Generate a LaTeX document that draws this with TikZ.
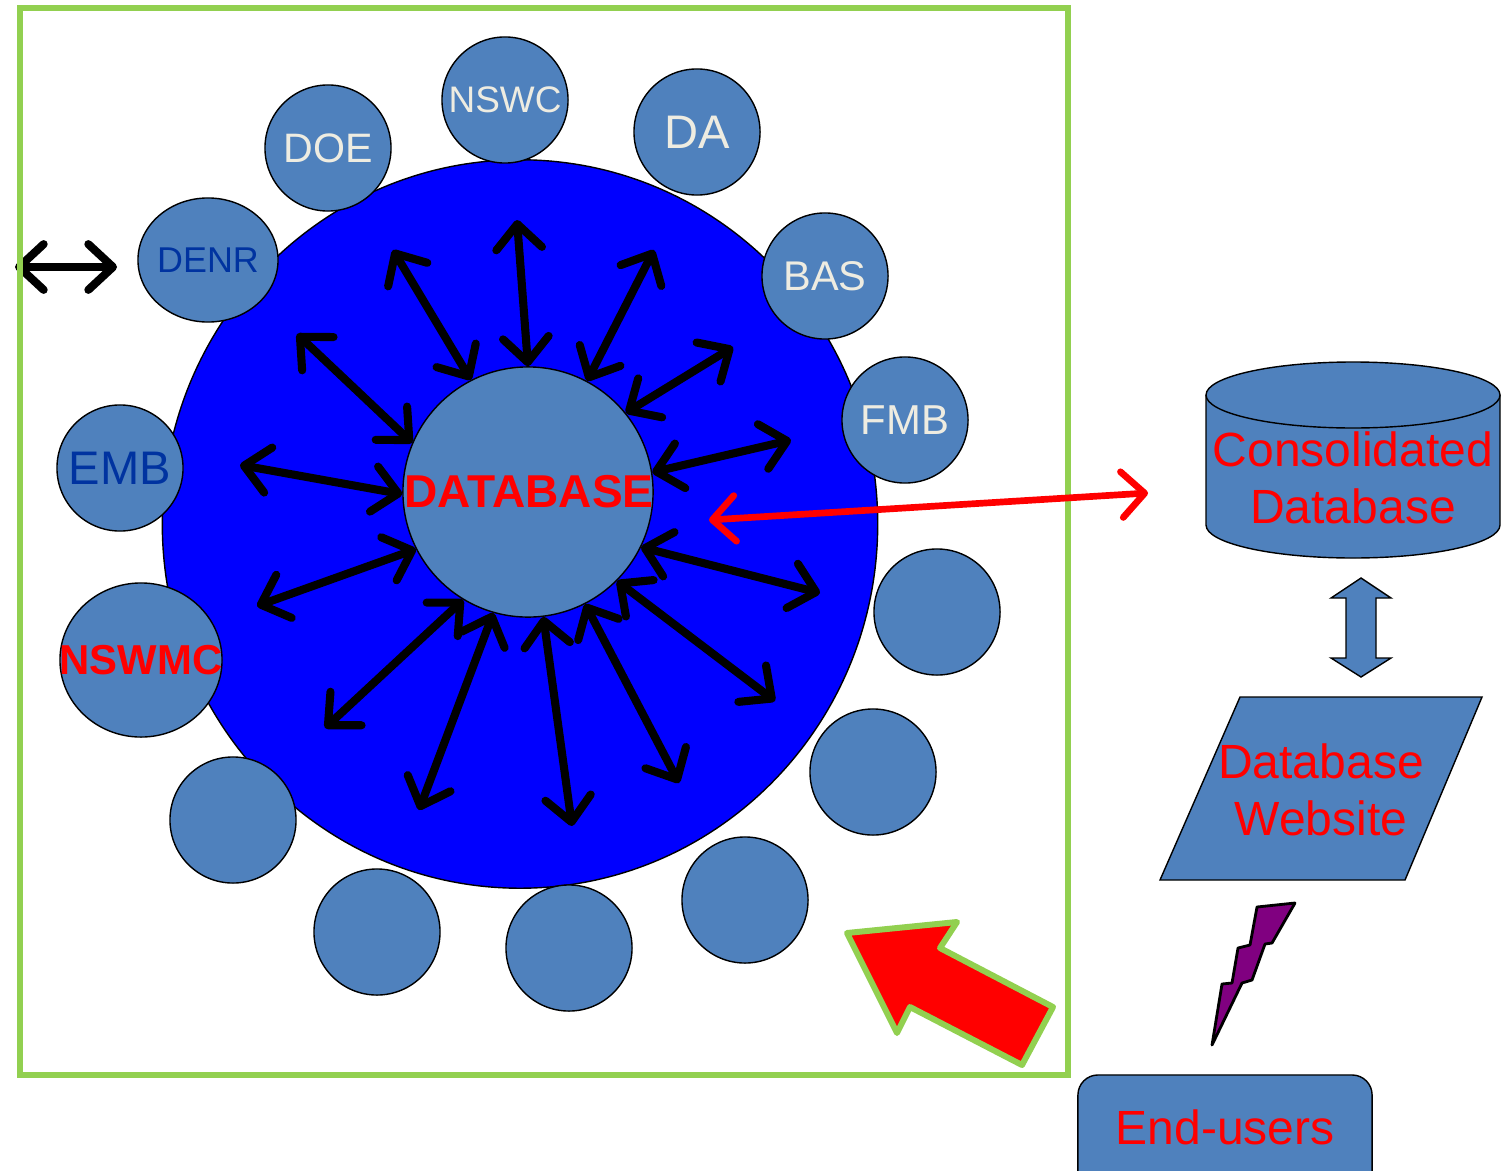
\documentclass[tikz,border=0pt]{standalone}
\usepackage{fontspec}
\setmainfont{Liberation Sans}
\usetikzlibrary{arrows.meta,shapes.geometric}
\definecolor{ringblue}{HTML}{0000FF}
\definecolor{nodeblue}{HTML}{4F81BD}
\definecolor{framegreen}{HTML}{92D050}
\definecolor{cream}{HTML}{EEECE1}
\definecolor{darkblue}{HTML}{0033A0}
\definecolor{boltpurple}{HTML}{800080}
\newcommand{\fsz}[1]{\fontsize{#1pt}{1.19\dimexpr#1pt\relax}\selectfont}
\tikzset{
  agency/.style={circle,draw,fill=nodeblue,minimum size=1.26cm,inner sep=0pt},
  link/.style={<->,>={Straight Barb[length=7pt,width=13pt,round]},line width=2.3pt,line cap=round},
  redlink/.style={<->,>={Straight Barb[length=6.5pt,width=13pt,round]},red,line width=1.9pt,line cap=round}
}
\begin{document}
\begin{tikzpicture}[x=0.01cm,y=-0.01cm]
  \useasboundingbox (0,0) rectangle (1504,1170);
  \fill[white] (0,0) rectangle (1504,1170);

  % Define nodes
  \node (ring) [ellipse,draw,fill=ringblue,minimum width=7.15cm,minimum height=7.28cm,inner sep=0pt] at (520,524) {};

  \node (nswc) [agency] at (505,100) {};
  \node (doe) [agency] at (328,148) {};
  \node (da) [agency] at (697,132) {};
  \node (denr) [ellipse,draw,fill=nodeblue,minimum width=1.4cm,minimum height=1.24cm,inner sep=0pt] at (208,260) {};
  \node (bas) [agency] at (825,276) {};
  \node (fmb) [agency] at (905,420) {};
  \node (emb) [agency] at (120,468) {};
  \node (nswmc) [ellipse,draw,fill=nodeblue,minimum width=1.62cm,minimum height=1.54cm,inner sep=0pt] at (141,660) {};
  \node (blank1) [agency] at (937,612) {};
  \node (blank2) [agency] at (873,772) {};
  \node (blank3) [agency] at (745,900) {};
  \node (blank4) [agency] at (569,948) {};
  \node (blank5) [agency] at (377,932) {};
  \node (blank6) [agency] at (233,820) {};

  \node [font=\fsz{10.5},text=cream] at (nswc) {NSWC};
  \node [font=\fsz{11.7},text=cream] at (doe) {DOE};
  \node [font=\fsz{13.4},text=cream] at (da) {DA};
  \node [font=\fsz{10.2},text=darkblue] at (denr) {DENR};
  \node [font=\fsz{11.8},text=cream] at (bas) {BAS};
  \node [font=\fsz{11.9},text=cream] at (fmb) {FMB};
  \node [font=\fsz{13.4},text=darkblue] at (emb) {EMB};
  \node [font=\bfseries\fsz{11.9},text=red] at (nswmc) {NSWMC};

  \node (db) [circle,draw,fill=nodeblue,minimum size=2.5cm,inner sep=0pt] at (528,492) {};
  \node [font=\bfseries\fsz{13.1},text=red] at (529,492) {DATABASE};

  % outer ends of the links
  \coordinate (o1) at (517,220);
  \coordinate (o2) at (393,250);
  \coordinate (o3) at (654,250);
  \coordinate (o4) at (733,347);
  \coordinate (o5) at (297,334);
  \coordinate (o6) at (791,440);
  \coordinate (o7) at (240,465);
  \coordinate (o8) at (257,606);
  \coordinate (o9) at (820,593);
  \coordinate (o10) at (325,728);
  \coordinate (o11) at (775,701);
  \coordinate (o12) at (419,810);
  \coordinate (o13) at (572,826);
  \coordinate (o14) at (679,783);
  \coordinate (outside) at (15,267);
  \coordinate (denrside) at (117,267);

  % Draw edges
  \draw [link] (o1) -- (db.90);
  \draw [link] (o2) -- (db.117);
  \draw [link] (o3) -- (db.62);
  \draw [link] (o4) -- (db.39);
  \draw [link] (o5) -- (db.157);
  \draw [link] (o6) -- (db.9);
  \draw [link] (o7) -- (db.181);
  \draw [link] (o8) -- (db.207);
  \draw [link] (o9) -- (db.334);
  \draw [link] (o10) -- (db.239);
  \draw [link] (o11) -- (db.315);
  \draw [link] (o12) -- (db.254);
  \draw [link] (o13) -- (db.277);
  \draw [link] (o14) -- (db.297);
  \draw [link] (outside) -- (denrside);

  % frame
  \draw [framegreen,line width=1.7pt] (20,8) rectangle (1068,1075);

  % consolidated database cylinder
  \draw [fill=nodeblue] (1206,395) -- (1206,525) arc[start angle=180,end angle=0,x radius=147,y radius=33] -- (1500,395);
  \draw [fill=nodeblue] (1353,395) ellipse[x radius=147,y radius=33];
  \node (cdb) [font=\fsz{13.65},text=red,align=center] at (1353,478) {Consolidated\\Database};

  \coordinate (dbedge) at (709,520);
  \coordinate (cdbedge) at (1148,493);
  \draw [redlink] (dbedge) -- (cdbedge);

  % two-way arrow
  \draw [fill=nodeblue] (1361,578) -- (1391,598) -- (1376,598) -- (1376,658) -- (1391,658) -- (1361,677)
    -- (1331,658) -- (1346,658) -- (1346,598) -- (1331,598) -- cycle;

  % website
  \draw [fill=nodeblue] (1240,697) -- (1482,697) -- (1405,880) -- (1160,880) -- cycle;
  \node (site) [font=\fsz{13.65},text=red,align=center] at (1321,790) {Database\\Website};

  % lightning
  \draw [fill=boltpurple,line width=0.8pt,line join=round] (1257,907) -- (1295,903) -- (1272,943) -- (1265,944) -- (1252,980)
    -- (1242,983) -- (1212,1045) -- (1222,984) -- (1232,983) -- (1238,948) -- (1250,945) -- cycle;

  % end-users
  \node (users) [draw,fill=nodeblue,rounded corners=0.2cm,minimum width=2.94cm,minimum height=1.3cm] at (1225,1140) {};
  \node [font=\fsz{13.65},text=red] at (1225,1127) {End-users};

  % big red arrow
  \draw [fill=red,draw=framegreen,line width=1.7pt,line join=round] (847,933) -- (957,922) -- (940,948) -- (1053,1007)
    -- (1022,1065) -- (910,1007) -- (897,1033) -- cycle;
\end{tikzpicture}
\end{document}
